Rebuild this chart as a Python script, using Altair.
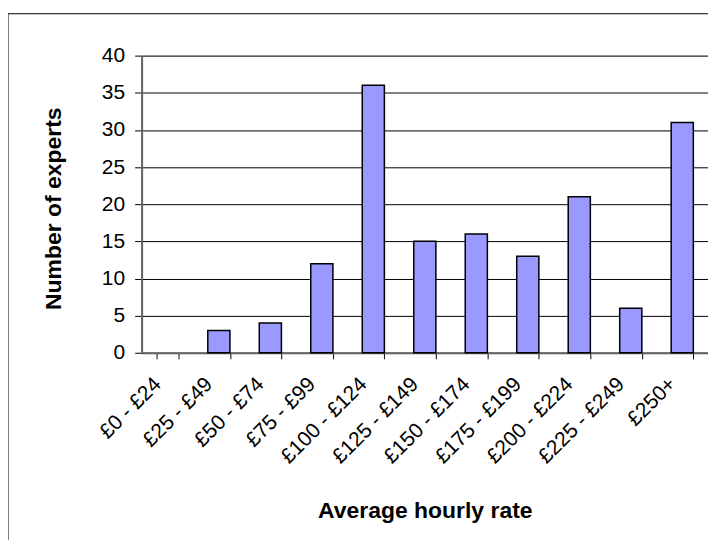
import altair as alt
import pandas as pd

categories = ["£0 - £24", "£25 - £49", "£50 - £74", "£75 - £99", "£100 - £124",
              "£125 - £149", "£150 - £174", "£175 - £199", "£200 - £224",
              "£225 - £249", "£250+"]
experts = [0, 3, 4, 12, 36, 15, 16, 13, 21, 6, 31]
y_ticks = [0, 5, 10, 15, 20, 25, 30, 35, 40]

df = pd.DataFrame({"rate": categories, "n": experts})

FONT = "Liberation Sans"
W, H = 568, 298

bars = alt.Chart(df).mark_bar(
    color="#9999FF", strokeWidth=1.5
).encode(
    x=alt.X("rate:N", sort=categories,
            scale=alt.Scale(paddingInner=0.57, paddingOuter=0.285),
            axis=alt.Axis(title="Average hourly rate", labelAngle=-45,
                          labelAlign="right", labelBaseline="middle",
                          labelPadding=22, labelOffset=-10,
                          tickBand="extent", tickSize=6, tickColor="black",
                          domainColor="#606060", domainWidth=2,
                          labelFontSize=21, labelFont=FONT, labelColor="black",
                          titleFont=FONT, titleFontSize=23, titleFontWeight="bold",
                          titleColor="black", titleY=158, titleBaseline="middle",
                          grid=False)),
    y=alt.Y("n:Q", scale=alt.Scale(domain=[0, 40], nice=False),
            axis=alt.Axis(title="Number of experts", values=y_ticks,
                          tickSize=7, tickColor="black", domainColor="#606060",
                          domainWidth=2, labelPadding=10,
                          labelFontSize=21, labelFont=FONT, labelColor="black",
                          titleFont=FONT, titleFontSize=23, titleFontWeight="bold",
                          titleColor="black", titleX=-88, titleY=153,
                          titleAngle=-90, titleAlign="center", titleBaseline="middle",
                          grid=True, gridColor="black", gridWidth=1, gridOpacity=1)),
    stroke=alt.condition("datum.n > 0", alt.value("black"), alt.value("transparent")),
)

frame = alt.Chart(pd.DataFrame({"a": [0]})).mark_rect(
    fill=None, stroke="black", strokeWidth=1, clip=False
).encode(
    x=alt.value(-134), x2=alt.value(W + 60),
    y=alt.value(-42), y2=alt.value(H + 300),
)

chart = alt.layer(frame, bars).properties(
    width=W, height=H,
    autosize=alt.AutoSizeParams(type="none"),
    padding={"left": 134, "top": 47, "right": 0, "bottom": 187},
).configure_view(
    stroke="#808080", strokeWidth=2
).configure(background="white")

chart.save("out.html", embed_options={"renderer": "svg", "actions": False})
